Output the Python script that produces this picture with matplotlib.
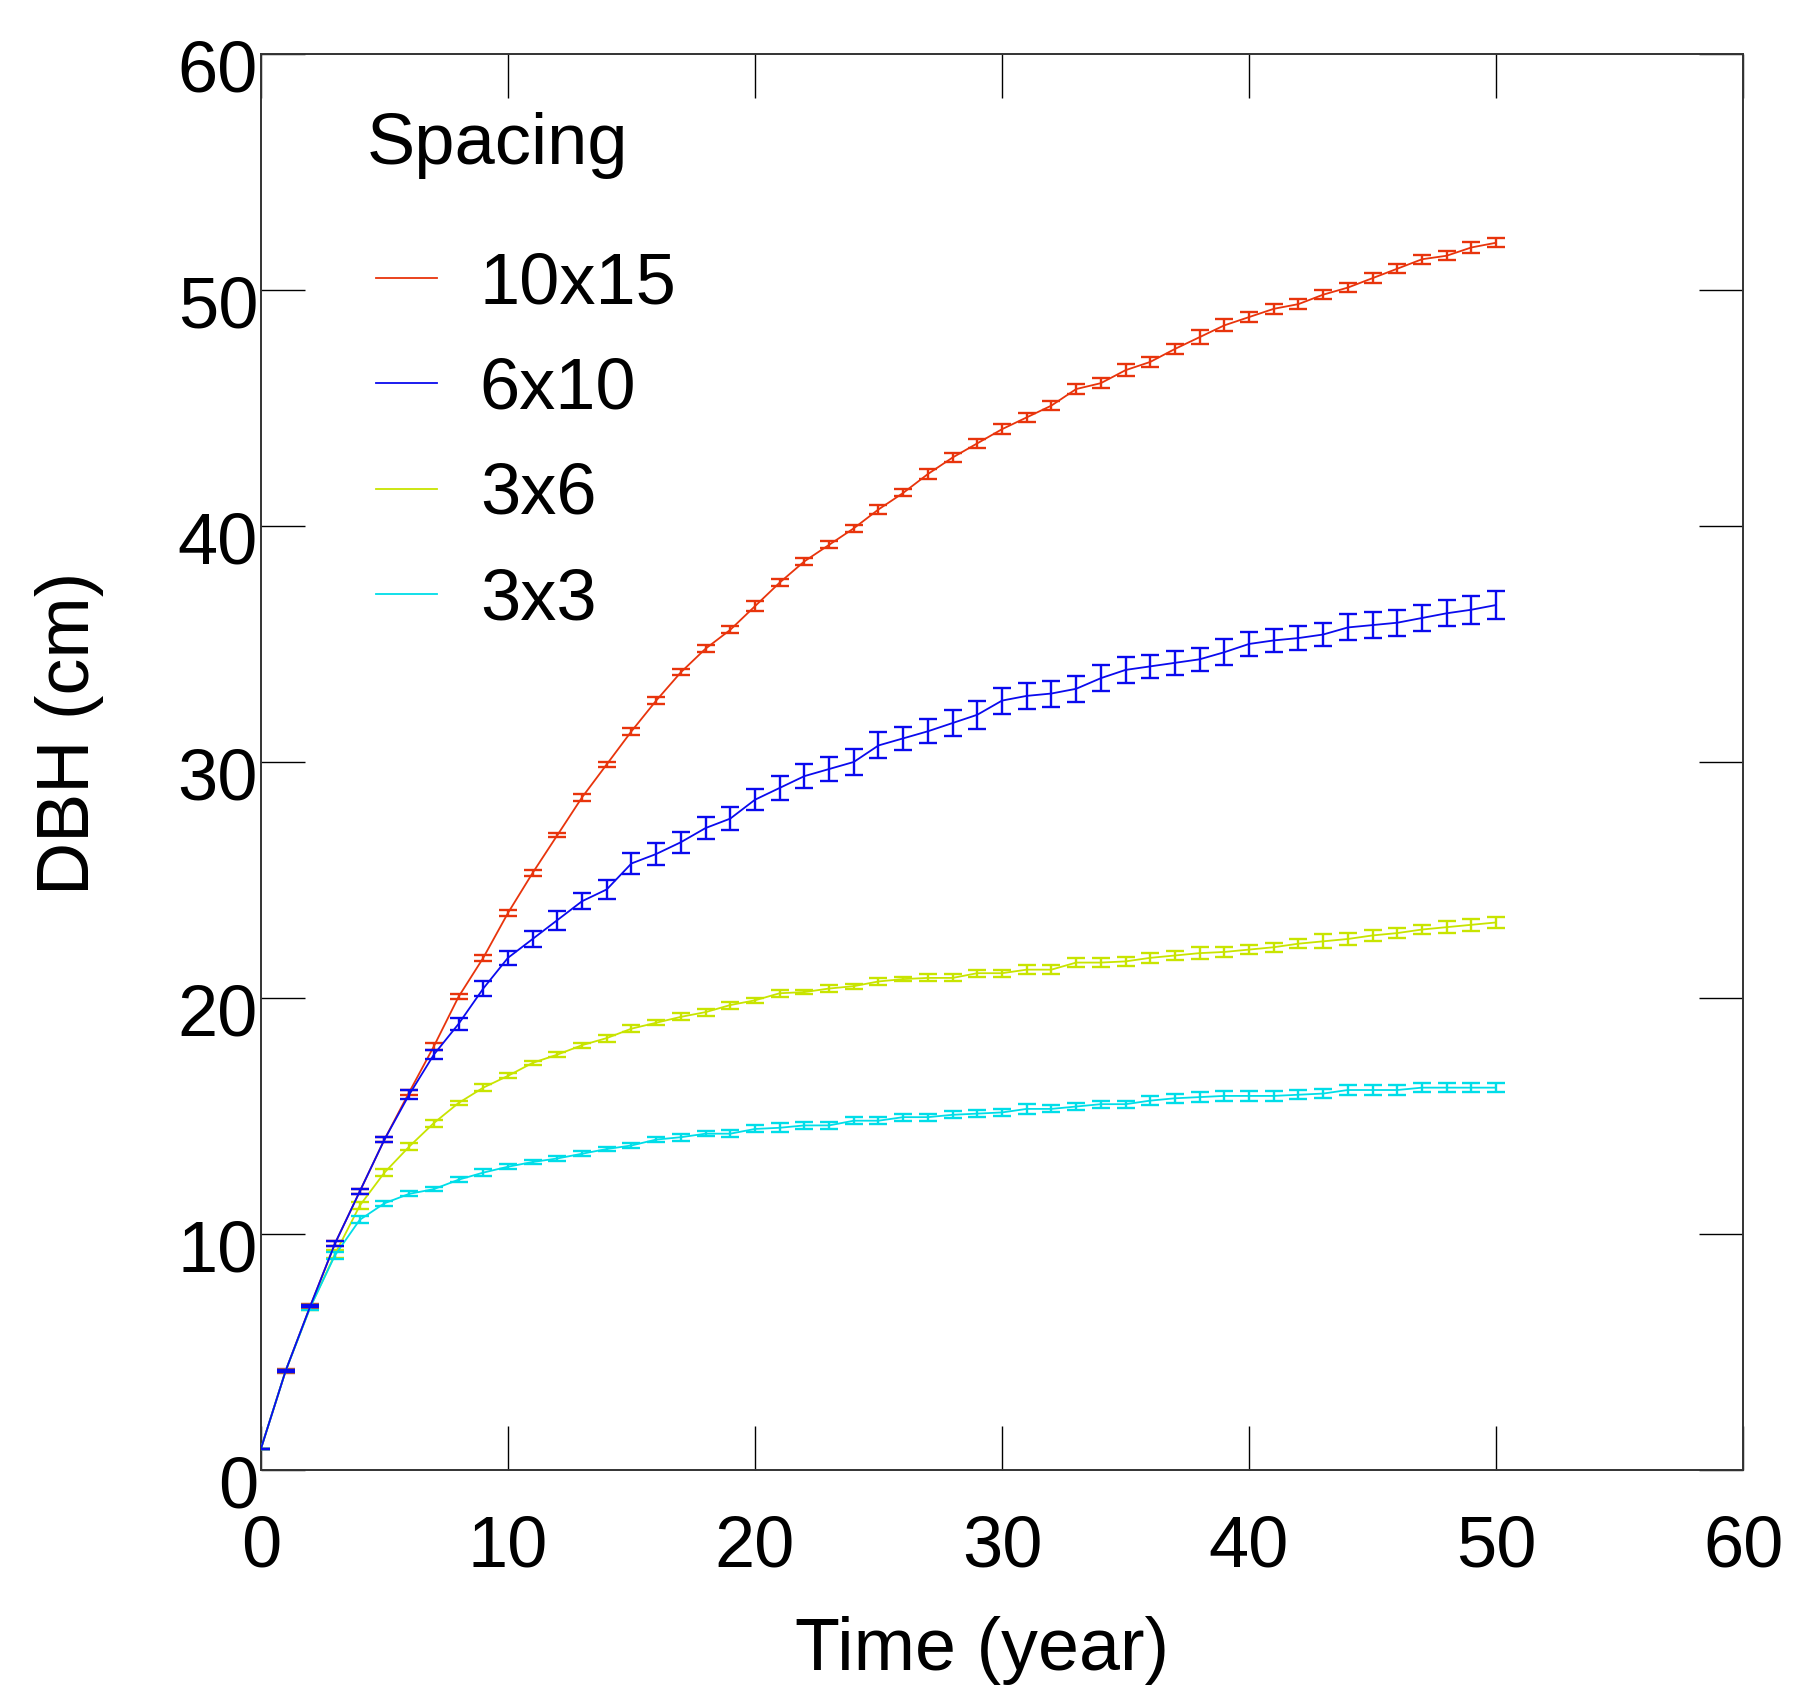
import matplotlib
matplotlib.use('Agg')
import matplotlib.pyplot as plt
from matplotlib.lines import Line2D
import matplotlib.transforms as mtransforms

plt.rcParams['font.family'] = ['Liberation Sans', 'DejaVu Sans']

years = list(range(0, 51))

dbh_10x15 = [0.9, 4.2, 6.95, 9.6, 11.8, 14.0, 16.0, 17.95, 20.05, 21.7,
             23.6, 25.3, 26.9, 28.5, 29.9, 31.3, 32.6, 33.8, 34.8, 35.6,
             36.6, 37.6, 38.5, 39.2, 39.9, 40.7, 41.4, 42.2, 42.9, 43.5,
             44.1, 44.6, 45.1, 45.8, 46.05, 46.6, 46.95, 47.5, 48.0, 48.5,
             48.85, 49.2, 49.4, 49.8, 50.1, 50.5, 50.9, 51.3, 51.45, 51.8, 52.0]
err_10x15 = [0.0, 0.1, 0.1, 0.1, 0.1, 0.1, 0.12, 0.15, 0.1, 0.12,
             0.12, 0.12, 0.1, 0.15, 0.1, 0.15, 0.15, 0.12, 0.15, 0.15,
             0.2, 0.15, 0.15, 0.15, 0.15, 0.2, 0.15, 0.2, 0.2, 0.2,
             0.2, 0.2, 0.2, 0.2, 0.2, 0.25, 0.2, 0.2, 0.3, 0.25,
             0.2, 0.2, 0.2, 0.2, 0.2, 0.2, 0.2, 0.2, 0.2, 0.25, 0.2]

dbh_6x10 = [0.9, 4.2, 6.95, 9.6, 11.8, 14.0, 15.9, 17.6, 18.9, 20.4,
            21.7, 22.5, 23.3, 24.1, 24.6, 25.7, 26.1, 26.6, 27.2, 27.6,
            28.4, 28.9, 29.4, 29.7, 30.0, 30.7, 31.0, 31.3, 31.65, 32.0,
            32.6, 32.8, 32.9, 33.1, 33.55, 33.9, 34.05, 34.2, 34.35, 34.65,
            35.0, 35.15, 35.25, 35.4, 35.7, 35.8, 35.9, 36.1, 36.3, 36.45, 36.65]
err_6x10 = [0.0, 0.05, 0.05, 0.1, 0.1, 0.1, 0.2, 0.2, 0.25, 0.3,
            0.3, 0.35, 0.4, 0.35, 0.4, 0.45, 0.45, 0.45, 0.45, 0.5,
            0.45, 0.5, 0.5, 0.5, 0.55, 0.55, 0.5, 0.5, 0.55, 0.6,
            0.55, 0.55, 0.55, 0.55, 0.55, 0.55, 0.5, 0.5, 0.5, 0.55,
            0.5, 0.5, 0.5, 0.5, 0.55, 0.55, 0.55, 0.55, 0.55, 0.6, 0.6]

dbh_3x6 = [0.9, 4.2, 6.9, 9.15, 11.2, 12.6, 13.7, 14.7, 15.55, 16.2,
           16.7, 17.25, 17.6, 18.0, 18.3, 18.7, 18.95, 19.2, 19.4, 19.7,
           19.9, 20.2, 20.25, 20.4, 20.5, 20.7, 20.8, 20.85, 20.85, 21.05,
           21.05, 21.2, 21.2, 21.5, 21.5, 21.55, 21.7, 21.8, 21.9, 21.95,
           22.05, 22.15, 22.3, 22.4, 22.5, 22.65, 22.75, 22.9, 23.0, 23.1, 23.2]
err_3x6 = [0.0, 0.05, 0.1, 0.15, 0.15, 0.15, 0.15, 0.15, 0.1, 0.15,
           0.1, 0.1, 0.1, 0.1, 0.15, 0.15, 0.1, 0.15, 0.15, 0.15,
           0.1, 0.15, 0.1, 0.15, 0.1, 0.15, 0.1, 0.15, 0.15, 0.15,
           0.15, 0.2, 0.2, 0.2, 0.2, 0.2, 0.2, 0.2, 0.25, 0.2,
           0.2, 0.2, 0.2, 0.3, 0.25, 0.25, 0.2, 0.2, 0.25, 0.25, 0.25]

dbh_3x3 = [0.9, 4.2, 6.9, 9.1, 10.6, 11.3, 11.7, 11.9, 12.3, 12.6,
           12.85, 13.05, 13.2, 13.4, 13.6, 13.75, 14.0, 14.1, 14.25, 14.25,
           14.45, 14.5, 14.6, 14.6, 14.8, 14.8, 14.95, 14.95, 15.05, 15.1,
           15.15, 15.3, 15.3, 15.4, 15.5, 15.5, 15.65, 15.75, 15.8, 15.85,
           15.85, 15.85, 15.9, 15.95, 16.1, 16.1, 16.1, 16.2, 16.2, 16.2, 16.2]
err_3x3 = [0.0, 0.05, 0.1, 0.15, 0.15, 0.1, 0.1, 0.1, 0.1, 0.15,
           0.1, 0.1, 0.1, 0.1, 0.1, 0.1, 0.1, 0.15, 0.1, 0.15,
           0.15, 0.2, 0.15, 0.15, 0.15, 0.15, 0.15, 0.15, 0.15, 0.15,
           0.15, 0.2, 0.15, 0.15, 0.15, 0.15, 0.2, 0.2, 0.2, 0.2,
           0.2, 0.2, 0.2, 0.2, 0.2, 0.2, 0.2, 0.2, 0.2, 0.2, 0.2]

labels = ['10x15', '6x10', '3x6', '3x3']
colors = ['#e8340c', '#0a0aee', '#c8e400', '#00dde8']
series = [(dbh_10x15, err_10x15), (dbh_6x10, err_6x10),
          (dbh_3x6, err_3x6), (dbh_3x3, err_3x3)]
zorders = [2, 5, 3, 4]

fig = plt.figure(figsize=(17.97, 16.91), dpi=100)
ax = fig.add_axes([0.1452, 0.1307, 0.8248, 0.8374])

for (y, e), c, z in zip(series, colors, zorders):
    ax.errorbar(years, y, yerr=e, color=c, lw=1.3, elinewidth=1.7,
                capsize=6.5, capthick=1.7, zorder=z)

ax.set_xlim(0, 60)
ax.set_ylim(0, 60)
ax.set_xticks(range(0, 61, 10))
ax.set_yticks(range(0, 61, 10))
ax.tick_params(direction='in', length=32, width=1.0, labelsize=52,
               top=True, right=True, color='black')
ax.tick_params(axis='x', pad=32)
ax.tick_params(axis='y', pad=2)
for s in ax.spines.values():
    s.set_linewidth(1.4)
    s.set_color('#333333')

offset = mtransforms.ScaledTranslation(0, -12 / 100, fig.dpi_scale_trans)
for lab in ax.get_yticklabels():
    lab.set_transform(lab.get_transform() + offset)

ax.set_xlabel('Time (year)', fontsize=53)
ax.xaxis.set_label_coords(0.4864, -0.103)
ax.set_ylabel('DBH (cm)', fontsize=53)
ax.yaxis.set_label_coords(-0.106, 0.52)

# legend title placed separately (larger gap than the entry spacing)
ax.text(0.0713, 0.935, 'Spacing', transform=ax.transAxes, fontsize=52,
        ha='left', va='center')
handles = [Line2D([0], [0], color=c, lw=1.3) for c in colors]
ax.legend(handles, labels, loc='upper left',
          bbox_to_anchor=(0.058, 0.881), frameon=False,
          fontsize=52, handlelength=0.85,
          handletextpad=0.59, labelspacing=0.53, borderaxespad=0)

fig.savefig('out.png', dpi=100)
